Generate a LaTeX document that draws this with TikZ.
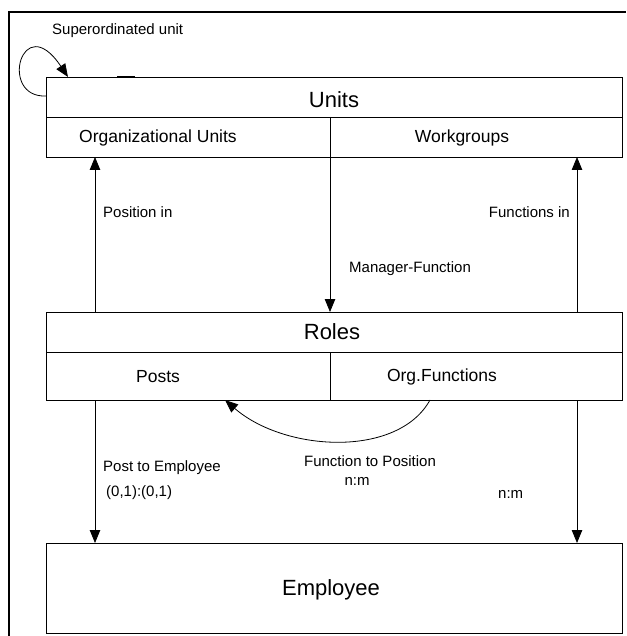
\documentclass[tikz,border=0pt]{standalone}
\usepackage{fontspec}
\setmainfont{Liberation Sans}
\usetikzlibrary{arrows.meta,fit}
\begin{document}
\begin{tikzpicture}[x=1pt,y=-1pt,
  box/.style={draw, line width=0.8pt, inner sep=0pt, outer sep=0pt},
  rule/.style={line width=0.8pt},
  frame/.style={line width=2.4pt},
  arr/.style={line width=0.8pt, -{Triangle[length=13pt,width=10.5pt]}},
  title/.style={inner sep=0pt, font=\fontsize{22}{26}\selectfont},
  cell/.style={inner sep=0pt, font=\fontsize{17.5}{21}\selectfont},
  lbl/.style={inner sep=0pt, font=\fontsize{15}{18}\selectfont},
  lblw/.style={lbl, anchor=west}]
\useasboundingbox (0,0) rectangle (626,636);

% outer frame: top and left edges only
\draw[frame] (9,636) -- (9,12) -- (626,12);

% corners of the three boxes
\coordinate (uNW) at (46,77);  \coordinate (uSE) at (622,157);
\coordinate (rNW) at (46,312); \coordinate (rSE) at (622,400);
\coordinate (eNW) at (46,543); \coordinate (eSE) at (622,633);
\node[box, fit=(uNW)(uSE)] (units) {};
\node[box, fit=(rNW)(rSE)] (roles) {};
\node[box, fit=(eNW)(eSE)] (employee) {};

% x positions of the connectors
\coordinate (xl) at (95,0);
\coordinate (xm) at (330,0);
\coordinate (xr) at (577,0);
\coordinate (ua) at (0,117);
\coordinate (ra) at (0,352);

% inner rules of Units and Roles
\draw[rule] (units.west |- ua) -- (units.east |- ua);
\draw[rule] (xm |- ua) -- (units.south -| xm);
\draw[rule] (roles.west |- ra) -- (roles.east |- ra);
\draw[rule] (xm |- ra) -- (roles.south -| xm);
\draw[line width=1.2pt] (units.north -| 117,0) -- (units.north -| 135,0);

% box texts
\node[title] (tUnits) at (334,100) {Units};
\node[cell] (tOrg) at (158,138) {Organizational Units};
\node[cell] (tWork) at (462,138) {Workgroups};
\node[title] (tRoles) at (332,332) {Roles};
\node[cell] (tPosts) at (158,377) {Posts};
\node[cell] (tFunc) at (442,377) {Org.Functions};
\node[title] (tEmp) at (331,590) {Employee};

% self relation of Units
\coordinate (loopA) at (0,96);
\coordinate (loopB) at (68,0);
\draw[arr] (units.west |- loopA) .. controls (-2,98) and (22,8) .. (units.north -| loopB);
\node[lblw] (lSup) at (52,31) {Superordinated unit};

% Units <-> Roles
\draw[arr] (roles.north -| xl) -- (units.south -| xl);
\node[lblw] (lPos) at (103,212) {Position in};
\draw[arr] (roles.north -| xr) -- (units.south -| xr);
\node[lbl, anchor=east] (lFun) at (570,212) {Functions in};
\draw[arr] (units.south -| xm) -- (roles.north -| xm);
\node[lblw] (lMan) at (349,269) {Manager-Function};

% Roles -> Employee
\draw[arr] (roles.south -| xl) -- (employee.north -| xl);
\node[lblw] (lPE) at (103,468) {Post to Employee};
\node[lblw] (lPE2) at (106,493) {(0,1):(0,1)};
\draw[arr] (roles.south -| xr) -- (employee.north -| xr);
\node[lblw] (lNM) at (498,494) {n:m};

% Org.Functions -> Posts
\coordinate (xf1) at (430,0);
\coordinate (xf2) at (225,0);
\draw[arr] (roles.south -| xf1) .. controls (398,458) and (285,452) .. (roles.south -| xf2);
\node[lbl] (lFP) at (370,461) {Function to Position};
\node[lbl] (lFP2) at (357,481) {n:m};
\end{tikzpicture}
\end{document}
